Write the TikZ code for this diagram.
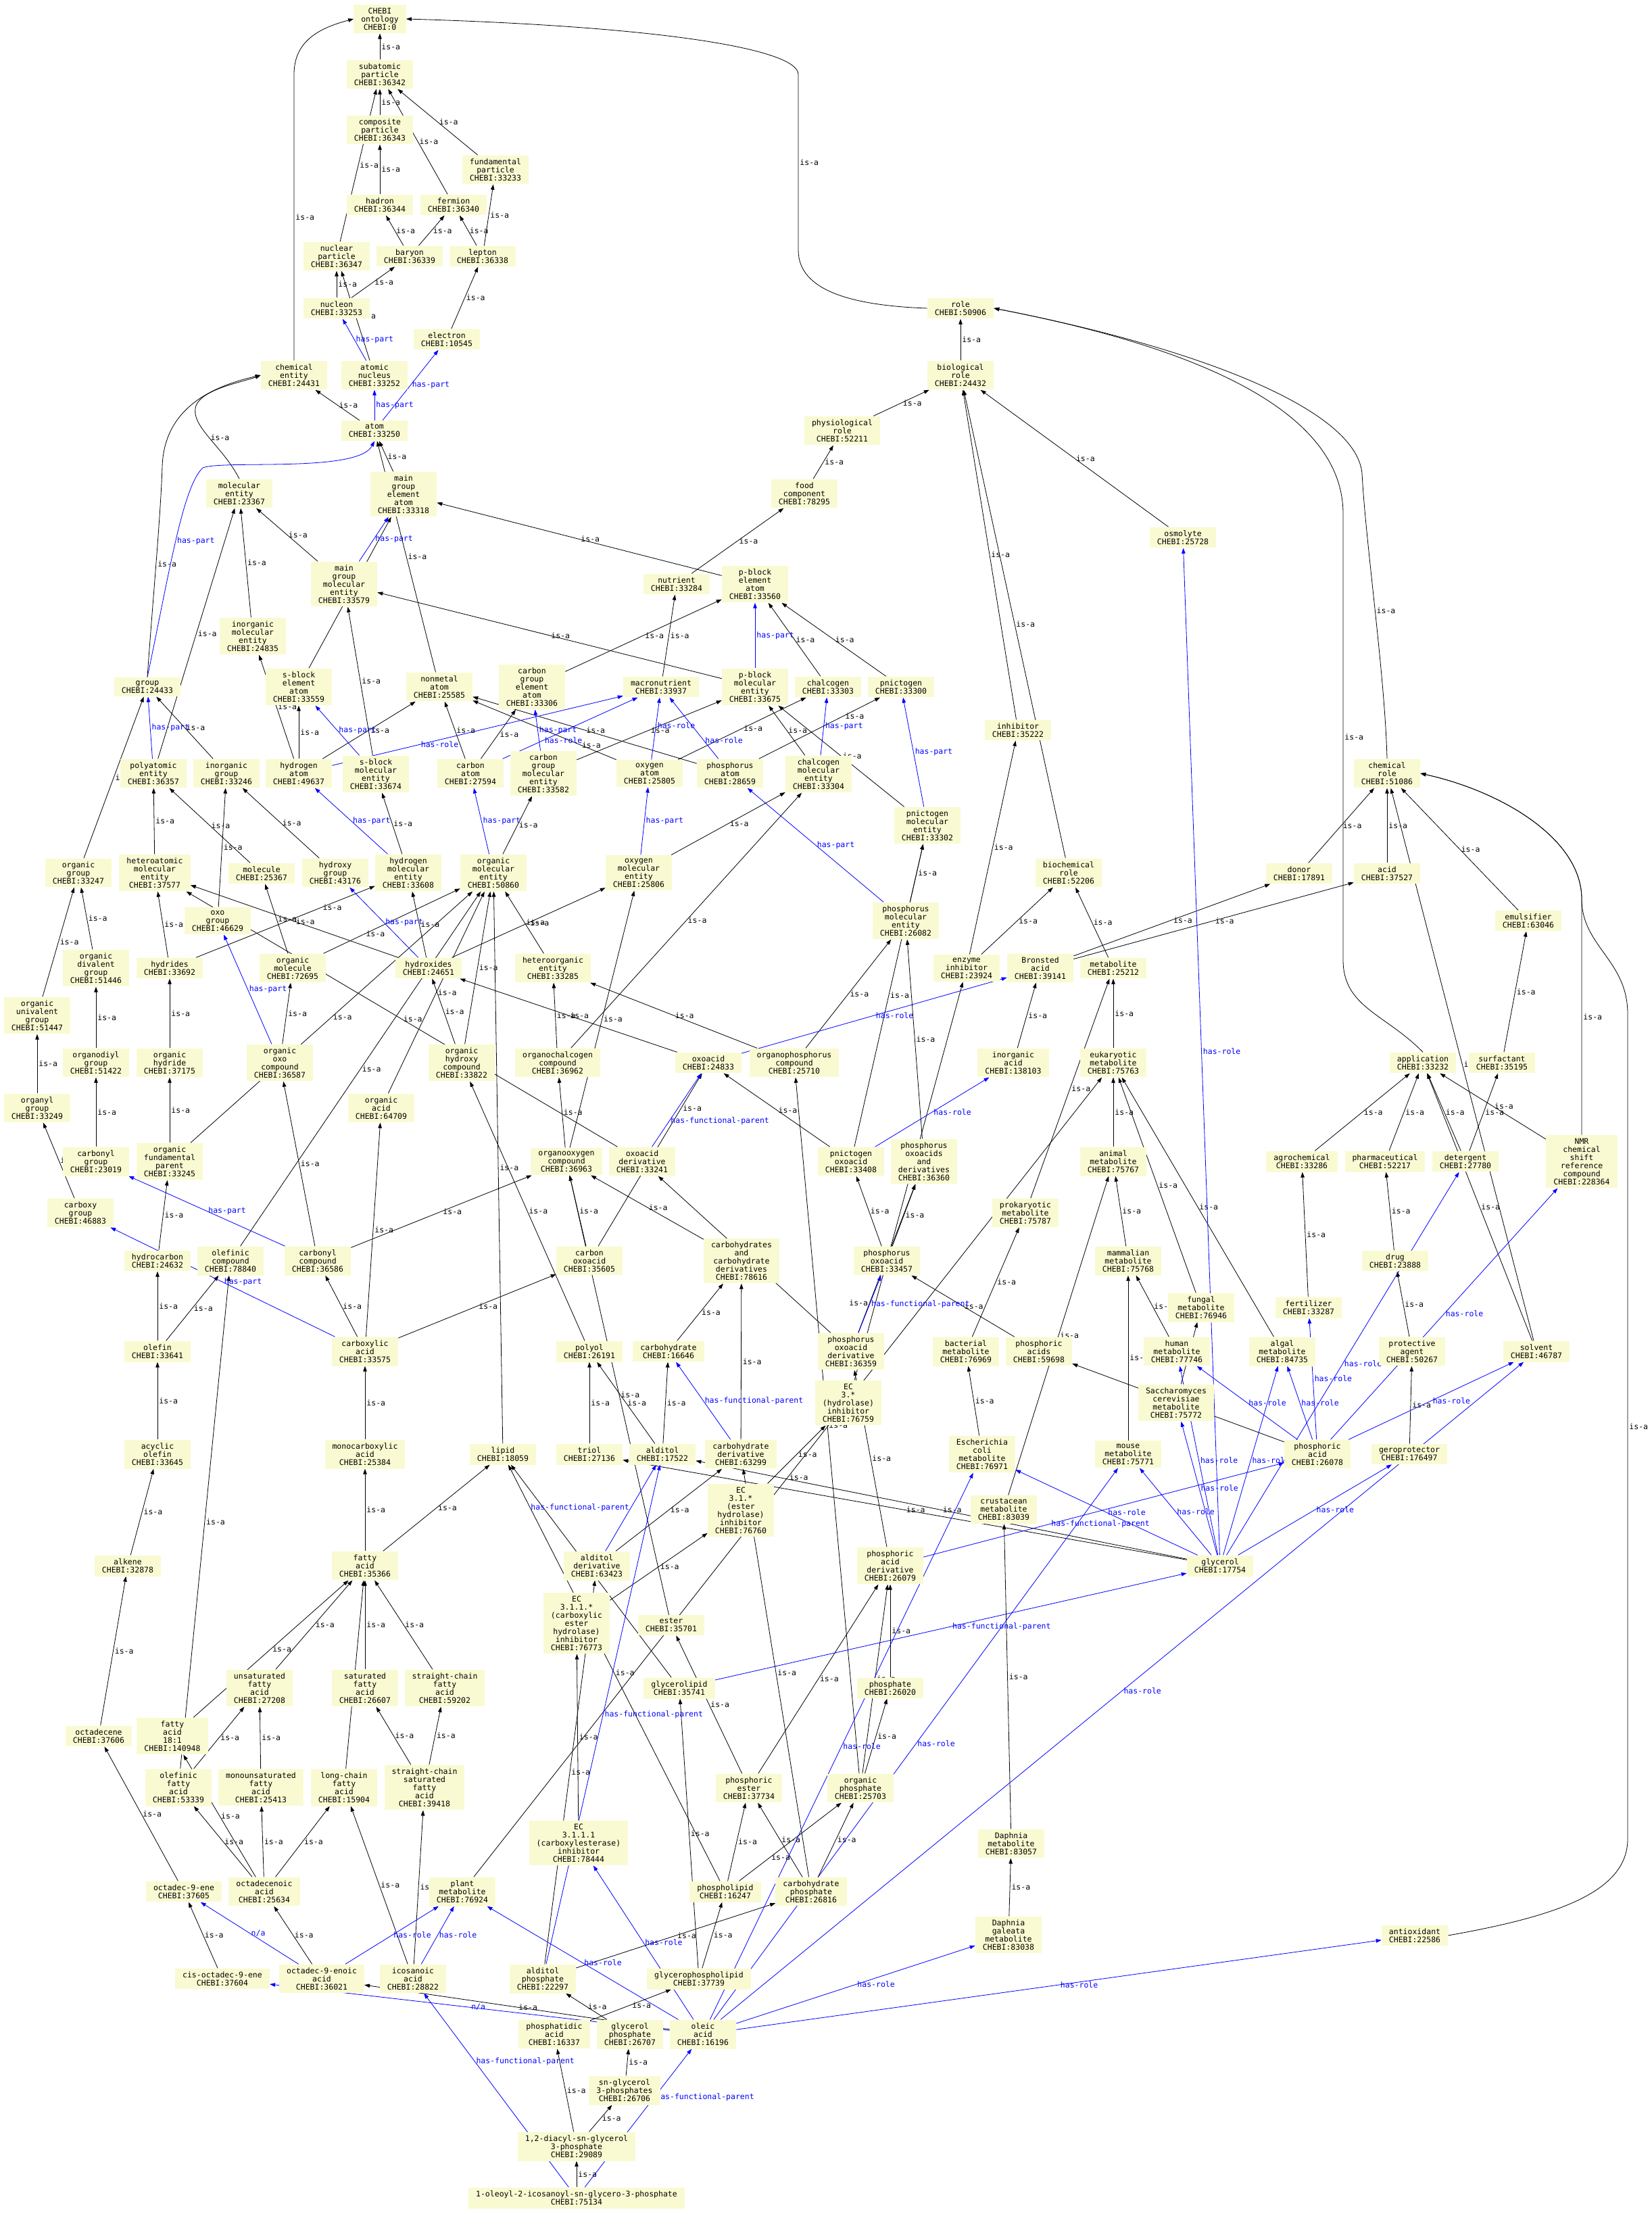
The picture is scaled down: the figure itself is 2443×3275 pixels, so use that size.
\documentclass[tikz,border=0pt]{standalone}
\usepackage{fontspec}
\newfontfamily\dvmono{DejaVu Sans Mono}
\usetikzlibrary{arrows.meta}
\definecolor{boxfill}{HTML}{FAFAD2}
\pgfdeclarelayer{edges}
\pgfsetlayers{edges,main}

\begin{document}
\begin{tikzpicture}[x=1pt, y=-1pt,
    font=\dvmono\fontsize{11.5}{12}\selectfont,
    ent/.style={fill=boxfill, align=center, inner xsep=11pt, inner ysep=5pt},
    isa/.style={-{Triangle[length=8pt,width=5.5pt]}, line width=0.8pt},
    rel/.style={isa, blue},
    lbl/.style={midway, right, inner sep=2pt}]
    \useasboundingbox (0,0) rectangle (2443,3275);

    % particles and atoms
    \node[ent] (chebi) at (562,28) {CHEBI\\ontology\\CHEBI:0};
    \node[ent] (subatomic) at (562,110) {subatomic\\particle\\CHEBI:36342};
    \node[ent] (composite) at (562,192) {composite\\particle\\CHEBI:36343};
    \node[ent] (fundamental) at (733,251) {fundamental\\particle\\CHEBI:33233};
    \node[ent] (hadron) at (562,303) {hadron\\CHEBI:36344};
    \node[ent] (fermion) at (671,303) {fermion\\CHEBI:36340};
    \node[ent] (nucpart) at (498,379) {nuclear\\particle\\CHEBI:36347};
    \node[ent] (baryon) at (606,379) {baryon\\CHEBI:36339};
    \node[ent] (lepton) at (714,379) {lepton\\CHEBI:36338};
    \node[ent] (nucleon) at (498,456) {nucleon\\CHEBI:33253};
    \node[ent] (electron) at (661,502) {electron\\CHEBI:10545};
    \node[ent] (chement) at (435,555) {chemical\\entity\\CHEBI:24431};
    \node[ent] (atnucleus) at (554,555) {atomic\\nucleus\\CHEBI:33252};
    \node[ent] (atom) at (554,637) {atom\\CHEBI:33250};
    \node[ent] (mgeatom) at (597,731) {main\\group\\element\\atom\\CHEBI:33318};
    \node[ent] (molent) at (354,730) {molecular\\entity\\CHEBI:23367};

    % roles
    \node[ent] (role) at (1421,456) {role\\CHEBI:50906};
    \node[ent] (biorole) at (1421,555) {biological\\role\\CHEBI:24432};
    \node[ent] (physrole) at (1246,637) {physiological\\role\\CHEBI:52211};
    \node[ent] (food) at (1190,730) {food\\component\\CHEBI:78295};
    \node[ent] (osmolyte) at (1750,795) {osmolyte\\CHEBI:25728};

    % molecular entities
    \node[ent] (mgmolent) at (509,864) {main\\group\\molecular\\entity\\CHEBI:33579};
    \node[ent] (inorgmolent) at (374,941) {inorganic\\molecular\\entity\\CHEBI:24835};
    \node[ent] (nutrient) at (1001,864) {nutrient\\CHEBI:33284};
    \node[ent] (pbeatom) at (1117,864) {p-block\\element\\atom\\CHEBI:33560};
    \node[ent] (group) at (218,1016) {group\\CHEBI:24433};
    \node[ent] (sbeatom) at (442,1016) {s-block\\element\\atom\\CHEBI:33559};
    \node[ent] (nonmetal) at (650,1016) {nonmetal\\atom\\CHEBI:25585};
    \node[ent] (cgeatom) at (787,1016) {carbon\\group\\element\\atom\\CHEBI:33306};
    \node[ent] (macronutrient) at (978,1016) {macronutrient\\CHEBI:33937};
    \node[ent] (pbmolent) at (1117,1016) {p-block\\molecular\\entity\\CHEBI:33675};
    \node[ent] (chalcogen) at (1225,1016) {chalcogen\\CHEBI:33303};
    \node[ent] (pnictogen) at (1333,1016) {pnictogen\\CHEBI:33300};
    \node[ent] (inhibitor) at (1506,1080) {inhibitor\\CHEBI:35222};
    \node[ent] (polyatomic) at (227,1144) {polyatomic\\entity\\CHEBI:36357};
    \node[ent] (inorggroup) at (335,1144) {inorganic\\group\\CHEBI:33246};
    \node[ent] (hatom) at (442,1144) {hydrogen\\atom\\CHEBI:49637};
    \node[ent] (sbmolent) at (556,1145) {s-block\\molecular\\entity\\CHEBI:33674};
    \node[ent] (catom) at (696,1144) {carbon\\atom\\CHEBI:27594};
    \node[ent] (cgmolent) at (804,1144) {carbon\\group\\molecular\\entity\\CHEBI:33582};
    \node[ent] (oatom) at (961,1144) {oxygen\\atom\\CHEBI:25805};
    \node[ent] (patom) at (1080,1144) {phosphorus\\atom\\CHEBI:28659};
    \node[ent] (chalcmolent) at (1211,1145) {chalcogen\\molecular\\entity\\CHEBI:33304};
    \node[ent] (chemrole) at (2052,1144) {chemical\\role\\CHEBI:51086};
    \node[ent] (pnicmolent) at (1372,1221) {pnictogen\\molecular\\entity\\CHEBI:33302};
    \node[ent] (orggroup) at (116,1291) {organic\\group\\CHEBI:33247};
    \node[ent] (heteroatomic) at (229,1291) {heteroatomic\\molecular\\entity\\CHEBI:37577};
    \node[ent] (molecule) at (387,1292) {molecule\\CHEBI:25367};
    \node[ent] (hydroxygroup) at (496,1291) {hydroxy\\group\\CHEBI:43176};
    \node[ent] (hmolent) at (604,1291) {hydrogen\\molecular\\entity\\CHEBI:33608};
    \node[ent] (orgmolent) at (730,1291) {organic\\molecular\\entity\\CHEBI:50860};
    \node[ent] (omolent) at (945,1291) {oxygen\\molecular\\entity\\CHEBI:25806};
    \node[ent] (biochemrole) at (1581,1291) {biochemical\\role\\CHEBI:52206};
    \node[ent] (donor) at (1922,1292) {donor\\CHEBI:17891};
    \node[ent] (acid) at (2052,1292) {acid\\CHEBI:37527};
    \node[ent] (oxogroup) at (322,1362) {oxo\\group\\CHEBI:46629};
    \node[ent] (pmolent) at (1340,1362) {phosphorus\\molecular\\entity\\CHEBI:26082};
    \node[ent] (emulsifier) at (2261,1362) {emulsifier\\CHEBI:63046};
    \node[ent] (orgdivgroup) at (142,1432) {organic\\divalent\\group\\CHEBI:51446};
    \node[ent] (hydrides) at (251,1432) {hydrides\\CHEBI:33692};
    \node[ent] (orgmolecule) at (433,1432) {organic\\molecule\\CHEBI:72695};
    \node[ent] (hydroxides) at (634,1432) {hydroxides\\CHEBI:24651};
    \node[ent] (heteroorg) at (818,1432) {heteroorganic\\entity\\CHEBI:33285};
    \node[ent] (enzinhib) at (1430,1432) {enzyme\\inhibitor\\CHEBI:23924};
    \node[ent] (bronsted) at (1539,1432) {Bronsted\\acid\\CHEBI:39141};
    \node[ent] (metabolite) at (1647,1432) {metabolite\\CHEBI:25212};
    \node[ent] (orgunigroup) at (55,1502) {organic\\univalent\\group\\CHEBI:51447};
    \node[ent] (organodiyl) at (142,1572) {organodiyl\\group\\CHEBI:51422};
    \node[ent] (orghydride) at (251,1572) {organic\\hydride\\CHEBI:37175};
    \node[ent] (orgoxo) at (414,1572) {organic\\oxo\\compound\\CHEBI:36587};
    \node[ent] (orghydroxy) at (683,1572) {organic\\hydroxy\\compound\\CHEBI:33822};
    \node[ent] (organochalc) at (825,1572) {organochalcogen\\compound\\CHEBI:36962};
    \node[ent] (oxoacid) at (1048,1572) {oxoacid\\CHEBI:24833};
    \node[ent] (organophos) at (1175,1572) {organophosphorus\\compound\\CHEBI:25710};
    \node[ent] (inorgacid) at (1499,1572) {inorganic\\acid\\CHEBI:138103};
    \node[ent] (eukmet) at (1647,1572) {eukaryotic\\metabolite\\CHEBI:75763};
    \node[ent] (application) at (2105,1572) {application\\CHEBI:33232};
    \node[ent] (surfactant) at (2222,1572) {surfactant\\CHEBI:35195};
    \node[ent] (organyl) at (55,1639) {organyl\\group\\CHEBI:33249};
    \node[ent] (orgacid) at (564,1639) {organic\\acid\\CHEBI:64709};

    % compounds
    \node[ent] (carbonylgroup) at (142,1718) {carbonyl\\group\\CHEBI:23019};
    \node[ent] (orgfundparent) at (251,1718) {organic\\fundamental\\parent\\CHEBI:33245};
    \node[ent] (organooxygen) at (838,1718) {organooxygen\\compound\\CHEBI:36963};
    \node[ent] (oxoacidderiv) at (950,1718) {oxoacid\\derivative\\CHEBI:33241};
    \node[ent] (pnicoxoacid) at (1259,1718) {pnictogen\\oxoacid\\CHEBI:33408};
    \node[ent] (phosoxoderivs) at (1367,1718) {phosphorus\\oxoacids\\and\\derivatives\\CHEBI:36360};
    \node[ent] (animalmet) at (1647,1718) {animal\\metabolite\\CHEBI:75767};
    \node[ent] (agrochem) at (1926,1718) {agrochemical\\CHEBI:33286};
    \node[ent] (pharma) at (2049,1718) {pharmaceutical\\CHEBI:52217};
    \node[ent] (detergent) at (2168,1718) {detergent\\CHEBI:27780};
    \node[ent] (nmr) at (2340,1718) {NMR\\chemical\\shift\\reference\\compound\\CHEBI:228364};
    \node[ent] (carboxygroup) at (119,1794) {carboxy\\group\\CHEBI:46883};
    \node[ent] (prokmet) at (1517,1794) {prokaryotic\\metabolite\\CHEBI:75787};
    \node[ent] (hydrocarbon) at (233,1865) {hydrocarbon\\CHEBI:24632};
    \node[ent] (olefiniccomp) at (341,1865) {olefinic\\compound\\CHEBI:78840};
    \node[ent] (carbonylcomp) at (470,1865) {carbonyl\\compound\\CHEBI:36586};
    \node[ent] (carbonoxoacid) at (872,1865) {carbon\\oxoacid\\CHEBI:35605};
    \node[ent] (carbsderivs) at (1097,1865) {carbohydrates\\and\\carbohydrate\\derivatives\\CHEBI:78616};
    \node[ent] (phosoxoacid) at (1312,1865) {phosphorus\\oxoacid\\CHEBI:33457};
    \node[ent] (mammalmet) at (1669,1865) {mammalian\\metabolite\\CHEBI:75768};
    \node[ent] (drug) at (2064,1865) {drug\\CHEBI:23888};
    \node[ent] (fungalmet) at (1777,1934) {fungal\\metabolite\\CHEBI:76946};
    \node[ent] (fertilizer) at (1936,1934) {fertilizer\\CHEBI:33287};
    \node[ent] (olefin) at (233,1999) {olefin\\CHEBI:33641};
    \node[ent] (carboxylic) at (540,1999) {carboxylic\\acid\\CHEBI:33575};
    \node[ent] (polyol) at (872,1999) {polyol\\CHEBI:26191};
    \node[ent] (carbohydrate) at (989,1999) {carbohydrate\\CHEBI:16646};
    \node[ent] (phosoxoderiv) at (1259,1999) {phosphorus\\oxoacid\\derivative\\CHEBI:36359};
    \node[ent] (bactmet) at (1429,1999) {bacterial\\metabolite\\CHEBI:76969};
    \node[ent] (phosacids) at (1537,1999) {phosphoric\\acids\\CHEBI:59698};
    \node[ent] (humanmet) at (1741,1999) {human\\metabolite\\CHEBI:77746};
    \node[ent] (algalmet) at (1897,1999) {algal\\metabolite\\CHEBI:84735};
    \node[ent] (protective) at (2089,1999) {protective\\agent\\CHEBI:50267};
    \node[ent] (solvent) at (2273,1999) {solvent\\CHEBI:46787};
    \node[ent] (ecthree) at (1255,2075) {EC\\3.*\\(hydrolase)\\inhibitor\\CHEBI:76759};
    \node[ent] (yeastmet) at (1740,2075) {Saccharomyces\\cerevisiae\\metabolite\\CHEBI:75772};
    \node[ent] (acyclicolefin) at (233,2151) {acyclic\\olefin\\CHEBI:33645};
    \node[ent] (monocarboxylic) at (540,2151) {monocarboxylic\\acid\\CHEBI:25384};
    \node[ent] (lipid) at (744,2151) {lipid\\CHEBI:18059};
    \node[ent] (triol) at (872,2151) {triol\\CHEBI:27136};
    \node[ent] (alditol) at (980,2151) {alditol\\CHEBI:17522};
    \node[ent] (carbderiv) at (1096,2151) {carbohydrate\\derivative\\CHEBI:63299};
    \node[ent] (ecolimet) at (1453,2151) {Escherichia\\coli\\metabolite\\CHEBI:76971};
    \node[ent] (mousemet) at (1669,2151) {mouse\\metabolite\\CHEBI:75771};
    \node[ent] (phosacid) at (1949,2151) {phosphoric\\acid\\CHEBI:26078};
    \node[ent] (geroprotector) at (2085,2151) {geroprotector\\CHEBI:176497};
    \node[ent] (ecthreeone) at (1096,2234) {EC\\3.1.*\\(ester\\hydrolase)\\inhibitor\\CHEBI:76760};
    \node[ent] (crustmet) at (1485,2233) {crustacean\\metabolite\\CHEBI:83039};
    \node[ent] (alkene) at (189,2316) {alkene\\CHEBI:32878};
    \node[ent] (fattyacid) at (540,2316) {fatty\\acid\\CHEBI:35366};
    \node[ent] (alditolderiv) at (883,2316) {alditol\\derivative\\CHEBI:63423};
    \node[ent] (phosacidderiv) at (1317,2316) {phosphoric\\acid\\derivative\\CHEBI:26079};
    \node[ent] (glycerol) at (1805,2316) {glycerol\\CHEBI:17754};
    \node[ent] (ecthreeoneone) at (853,2401) {EC\\3.1.1.*\\(carboxylic\\ester\\hydrolase)\\inhibitor\\CHEBI:76773};
    \node[ent] (ester) at (993,2404) {ester\\CHEBI:35701};

    % fatty acids and phosphates
    \node[ent] (unsatfa) at (384,2497) {unsaturated\\fatty\\acid\\CHEBI:27208};
    \node[ent] (satfa) at (540,2497) {saturated\\fatty\\acid\\CHEBI:26607};
    \node[ent] (scfa) at (658,2497) {straight-chain\\fatty\\acid\\CHEBI:59202};
    \node[ent] (glycerolipid) at (1005,2497) {glycerolipid\\CHEBI:35741};
    \node[ent] (phosphate) at (1317,2497) {phosphate\\CHEBI:26020};
    \node[ent] (octadecene) at (146,2568) {octadecene\\CHEBI:37606};
    \node[ent] (fa181) at (255,2568) {fatty\\acid\\18:1\\CHEBI:140948};
    \node[ent] (olefinicfa) at (264,2644) {olefinic\\fatty\\acid\\CHEBI:53339};
    \node[ent] (monounsatfa) at (386,2644) {monounsaturated\\fatty\\acid\\CHEBI:25413};
    \node[ent] (lcfa) at (509,2644) {long-chain\\fatty\\acid\\CHEBI:15904};
    \node[ent] (scsatfa) at (628,2644) {straight-chain\\saturated\\fatty\\acid\\CHEBI:39418};
    \node[ent] (phosester) at (1108,2645) {phosphoric\\ester\\CHEBI:37734};
    \node[ent] (orgphosphate) at (1273,2645) {organic\\phosphate\\CHEBI:25703};
    \node[ent] (ecthreeoneoneone) at (856,2726) {EC\\3.1.1.1\\(carboxylesterase)\\inhibitor\\CHEBI:78444};
    \node[ent] (daphniamet) at (1496,2727) {Daphnia\\metabolite\\CHEBI:83057};
    \node[ent] (octadec9ene) at (272,2798) {octadec-9-ene\\CHEBI:37605};
    \node[ent] (octadecenoic) at (391,2798) {octadecenoic\\acid\\CHEBI:25634};
    \node[ent] (plantmet) at (684,2798) {plant\\metabolite\\CHEBI:76924};
    \node[ent] (phospholipid) at (1073,2798) {phospholipid\\CHEBI:16247};
    \node[ent] (carbphosphate) at (1200,2798) {carbohydrate\\phosphate\\CHEBI:26816};
    \node[ent] (daphniagal) at (1492,2862) {Daphnia\\galeata\\metabolite\\CHEBI:83038};
    \node[ent] (antioxidant) at (2093,2863) {antioxidant\\CHEBI:22586};
    \node[ent] (cisoctadec) at (329,2927) {cis-octadec-9-ene\\CHEBI:37604};
    \node[ent] (octadecenoicnine) at (476,2927) {octadec-9-enoic\\acid\\CHEBI:36021};
    \node[ent] (icosanoic) at (611,2927) {icosanoic\\acid\\CHEBI:28822};
    \node[ent] (alditolphos) at (803,2927) {alditol\\phosphate\\CHEBI:22297};
    \node[ent] (glycerophospholipid) at (1034,2927) {glycerophospholipid\\CHEBI:37739};
    \node[ent] (phosphatidic) at (820,3009) {phosphatidic\\acid\\CHEBI:16337};
    \node[ent] (glycerolphos) at (932,3009) {glycerol\\phosphate\\CHEBI:26707};
    \node[ent] (oleic) at (1040,3009) {oleic\\acid\\CHEBI:16196};
    \node[ent] (snglycerol) at (924,3092) {sn-glycerol\\3-phosphates\\CHEBI:26706};
    \node[ent] (diacylglycerol) at (853,3175) {1,2-diacyl-sn-glycerol\\3-phosphate\\CHEBI:29089};
    \node[ent] (oleoylicosanoyl) at (853,3251) {1-oleoyl-2-icosanoyl-sn-glycero-3-phosphate\\CHEBI:75134};

    \begin{pgfonlayer}{edges}
    % long routed edges
    \draw[isa] (chement.north) -- (435,110) node[lbl] {is-a}
        .. controls (435,62) and (470,42) .. (chebi.west);
    \draw[isa] (role.west) .. controls (1260,452) and (1181,430) .. (1181,370)
        -- (1181,110) node[lbl] {is-a} .. controls (1181,75) and (1000,40) .. (chebi.east);
    \draw[isa] (application.north) .. controls (2050,1500) and (1987,1490) .. (1987,1420)
        -- (1987,760) node[lbl] {is-a} .. controls (1987,600) and (1750,510) .. (role.east);
    \draw[isa] (chemrole.north) .. controls (2049,1000) and (2020,800) .. (2015,700) node[lbl] {is-a}
        .. controls (2005,600) and (1750,510) .. (role.east);
    \draw[isa] (antioxidant.east) .. controls (2300,2835) and (2408,2800) .. (2408,2720)
        -- (2408,1500) node[lbl] {is-a} .. controls (2408,1420) and (2340,1400) .. (2340,1330)
        .. controls (2340,1240) and (2220,1170) .. (chemrole.east);
    \draw[isa] (nmr.north) -- (2340,1330) node[lbl] {is-a}
        .. controls (2340,1240) and (2220,1170) .. (chemrole.east);
    \draw[isa] (group.north) .. controls (225,900) and (238,760) .. (240,690) node[lbl] {is-a}
        .. controls (243,600) and (320,570) .. (chement.west);
    \draw[isa] (molent.north) .. controls (330,660) and (280,630) .. (290,600) node[lbl] {is-a}
        .. controls (300,575) and (360,565) .. (chement.west);
    \draw[rel] (group.north) .. controls (250,850) and (270,720) .. (300,692) node[lbl, blue] {has-part}
        .. controls (330,680) and (530,700) .. (atom.south);

    % is-a
    \foreach \a/\b in {subatomic/chebi,
        composite/subatomic, nucpart/subatomic, fermion/subatomic, fundamental/subatomic,
        hadron/composite, baryon/hadron, baryon/fermion, lepton/fermion, lepton/fundamental,
        nucleon/nucpart, nucleon/baryon, atnucleus/nucpart, electron/lepton,
        atom/chement, mgeatom/atom,
        biorole/role, physrole/biorole, food/physrole, osmolyte/biorole, inhibitor/biorole,
        biochemrole/biorole,
        nutrient/food, pbeatom/mgeatom, mgmolent/molent, inorgmolent/molent, polyatomic/molent,
        sbeatom/mgeatom, nonmetal/atom, macronutrient/nutrient, pbmolent/mgmolent,
        chalcogen/pbeatom, pnictogen/pbeatom, cgeatom/pbeatom,
        inorggroup/group, orggroup/group, hatom/sbeatom, hatom/nonmetal, hatom/inorgmolent,
        sbmolent/mgmolent, catom/nonmetal, catom/cgeatom, cgmolent/pbmolent,
        oatom/chalcogen, patom/nonmetal,
        chalcmolent/pbmolent, pnicmolent/pbmolent, heteroatomic/polyatomic, molecule/polyatomic,
        hydroxygroup/inorggroup, oxogroup/inorggroup, hmolent/sbmolent, omolent/chalcmolent,
        orgmolent/cgmolent, pmolent/pnicmolent,
        enzinhib/inhibitor, enzinhib/biochemrole, bronsted/acid, bronsted/donor,
        donor/chemrole, acid/chemrole, metabolite/biochemrole,
        emulsifier/chemrole, surfactant/emulsifier, solvent/chemrole, solvent/application,
        nmr/application,
        agrochem/application, pharma/application, detergent/application, detergent/surfactant,
        drug/pharma, protective/drug, fertilizer/agrochem, geroprotector/protective,
        eukmet/metabolite, prokmet/metabolite, animalmet/eukmet, fungalmet/eukmet,
        algalmet/eukmet, plantmet/eukmet, mammalmet/animalmet, humanmet/mammalmet,
        mousemet/mammalmet, yeastmet/fungalmet, bactmet/prokmet, ecolimet/bactmet,
        crustmet/animalmet, daphniamet/crustmet, daphniagal/daphniamet,
        orgunigroup/orggroup, orgdivgroup/orggroup, organodiyl/orgdivgroup, organyl/orgunigroup,
        carbonylgroup/organodiyl, carboxygroup/organyl,
        hydrides/heteroatomic, orgmolecule/molecule,
        hydroxides/heteroatomic, hydroxides/hmolent, hydroxides/omolent,
        heteroorg/orgmolent, orghydride/hydrides, orgoxo/orgmolecule,
        orghydroxy/hydroxides, orghydroxy/orgmolent,
        organochalc/heteroorg, organochalc/chalcmolent, organophos/heteroorg, organophos/pmolent,
        oxoacid/hydroxides, inorgacid/bronsted,
        orgacid/orgmolent, olefiniccomp/orgmolent, orgfundparent/orgmolent,
        orgfundparent/orghydride, lipid/orgmolent,
        organooxygen/organochalc, organooxygen/omolent, oxoacidderiv/heteroatomic,
        pnicoxoacid/oxoacid, pnicoxoacid/pnicmolent, phosoxoderivs/pmolent,
        phosoxoacid/pnicoxoacid, phosoxoacid/phosoxoderivs,
        phosacids/phosoxoacid, phosacid/phosacids,
        phosoxoderiv/oxoacidderiv, phosacidderiv/phosoxoderiv,
        phosphate/phosacidderiv, orgphosphate/phosphate, orgphosphate/phosacidderiv,
        orgphosphate/organophos, phosester/phosacidderiv, phosester/ester,
        phospholipid/phosester, phospholipid/lipid,
        carbphosphate/phosester, carbphosphate/orgphosphate, carbphosphate/carbderiv,
        glycerophospholipid/phospholipid, glycerophospholipid/glycerolipid, glycerolipid/lipid,
        phosphatidic/glycerophospholipid, glycerolphos/alditolphos, snglycerol/glycerolphos,
        diacylglycerol/phosphatidic, diacylglycerol/snglycerol, oleoylicosanoyl/diacylglycerol,
        alditolphos/carbphosphate, alditolphos/alditolderiv, alditolderiv/carbderiv,
        carbderiv/carbsderivs, carbohydrate/carbsderivs, alditol/carbohydrate, alditol/polyol,
        triol/polyol, glycerol/triol, glycerol/alditol,
        carbsderivs/organooxygen, polyol/orghydroxy,
        carbonoxoacid/organooxygen, ester/organooxygen,
        ecthree/enzinhib, ecthreeone/ecthree, ecthreeoneone/ecthreeone,
        ecthreeoneoneone/ecthreeoneone,
        oleic/octadecenoicnine, octadecenoicnine/octadecenoic, icosanoic/lcfa, icosanoic/scsatfa,
        cisoctadec/octadec9ene, octadec9ene/octadecene,
        octadecenoic/olefinicfa, octadecenoic/monounsatfa, octadecenoic/lcfa, octadecenoic/fa181,
        olefinicfa/unsatfa, olefinicfa/olefiniccomp, monounsatfa/unsatfa, fa181/fattyacid,
        unsatfa/fattyacid, lcfa/fattyacid, satfa/fattyacid, scfa/fattyacid,
        fattyacid/lipid, fattyacid/monocarboxylic, monocarboxylic/carboxylic,
        scsatfa/satfa, scsatfa/scfa, octadecene/alkene, alkene/acyclicolefin,
        acyclicolefin/olefin, olefin/hydrocarbon, olefin/olefiniccomp, hydrocarbon/orgfundparent,
        carboxylic/carbonoxoacid, carboxylic/orgacid, carboxylic/carbonylcomp,
        carbonylcomp/orgoxo, carbonylcomp/organooxygen}
        \draw[isa] (\a) -- (\b) node[lbl] {is-a};
    \foreach \a/\b/\p in {orgmolecule/orgmolent/0.3, oatom/nonmetal/0.25, carbonoxoacid/oxoacid/0.8,
        patom/pnictogen/0.7, hydrides/hmolent/0.7, phospholipid/orgphosphate/0.3}
        \draw[isa] (\a) -- (\b) node[lbl, pos=\p] {is-a};
    \draw[isa] (phosoxoderiv) -- (phosoxoderivs) node[pos=0.2, left, inner sep=2pt] {is-a};

    % has-part
    \foreach \a/\b in {polyatomic/group, atom/atnucleus, atom/electron,
        atnucleus/nucleon, mgmolent/mgeatom, sbmolent/sbeatom, hmolent/hatom,
        cgmolent/cgeatom, orgmolent/catom, pbmolent/pbeatom, chalcmolent/chalcogen,
        pnicmolent/pnictogen, omolent/oatom, pmolent/patom, hydroxides/hydroxygroup,
        orgoxo/oxogroup, carbonylcomp/carbonylgroup, carboxylic/carboxygroup}
        \draw[rel] (\a) -- (\b) node[lbl, blue] {has-part};

    % has-role
    \foreach \a/\b/\p in {hatom/macronutrient/0.3, catom/macronutrient/0.3,
        oatom/macronutrient/0.55, patom/macronutrient/0.3}
        \draw[rel] (\a) -- (\b) node[lbl, blue, pos=\p] {has-role};
    \foreach \a/\b in {oxoacid/bronsted, pnicoxoacid/inorgacid,
        phosacid/fertilizer, phosacid/algalmet, phosacid/humanmet, phosacid/nmr, phosacid/solvent,
        glycerol/osmolyte, glycerol/detergent, glycerol/geroprotector, glycerol/humanmet,
        glycerol/algalmet, glycerol/yeastmet, glycerol/mousemet, glycerol/ecolimet,
        octadecenoicnine/plantmet, icosanoic/plantmet, oleic/plantmet,
        oleic/ecthreeoneoneone, oleic/ecolimet, oleic/daphniagal, oleic/mousemet,
        oleic/antioxidant, oleic/solvent}
        \draw[rel] (\a) -- (\b) node[lbl, blue] {has-role};

    % has-functional-parent
    \foreach \a/\b in {phosoxoderiv/phosoxoacid, carbderiv/carbohydrate,
        alditolphos/alditol, glycerolipid/glycerol}
        \draw[rel] (\a) -- (\b) node[lbl, blue] {has-functional-parent};
    \foreach \a/\b/\p in {oxoacidderiv/oxoacid/0.35, phosacidderiv/phosacid/0.35,
        oleoylicosanoyl/oleic/0.65, oleoylicosanoyl/icosanoic/0.65}
        \draw[rel] (\a) -- (\b) node[lbl, blue, pos=\p] {has-functional-parent};
    \draw[rel] (alditolderiv) -- (alditol) node[midway, left, inner sep=2pt, blue] {has-functional-parent};

    % n/a
    \foreach \a/\b in {octadecenoicnine/octadec9ene, oleic/cisoctadec}
        \draw[rel] (\a) -- (\b) node[lbl, blue] {n/a};
    \end{pgfonlayer}
\end{tikzpicture}
\end{document}
